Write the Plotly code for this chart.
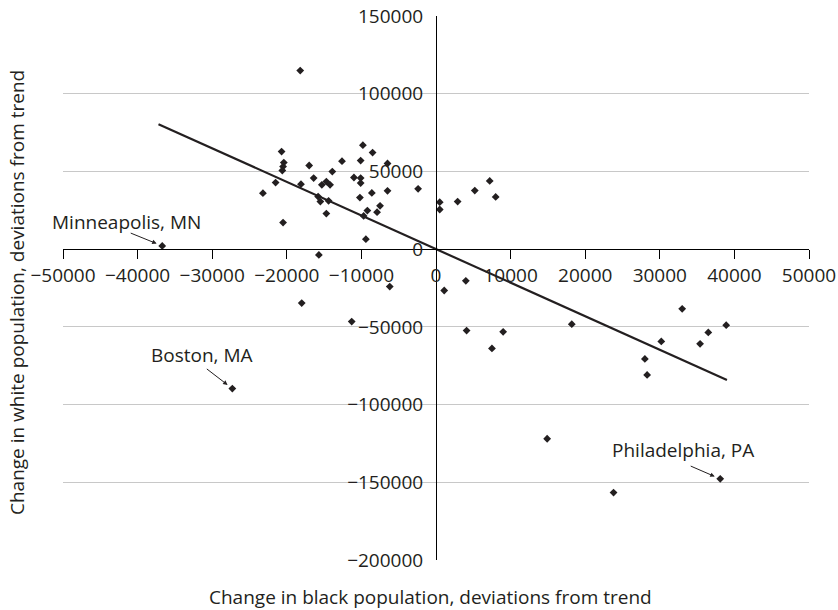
import plotly.graph_objects as go

# Metro areas: change in black vs. white population, deviations from trend
black_change = [
    -18200, -20700, -20400, -20500, -20600, -23200, -21500, -20500, -18100, -17000,
    -16400, -15300, -15800, -15500, -15700, -14700, -14200, -13900, -14400, -14700,
    -12600, -11000, -9800, -10100, -10100, -10100, -10200, -8500, -8600, -9200,
    -9700, -9400, -7900, -7500, -6500, -6500, -2400, -6200, 500, 500,
    2900, 5200, 7200, 8000, 1100, 4000, 4100, 7500, 9000, 14900,
    18200, 23800, 28000, 28300, 30200, 33000, 35400, 36500, 38900, -18000,
    -11300,
]
white_change = [
    114900, 62800, 55700, 53100, 50600, 36000, 42800, 17100, 41800, 53800,
    45700, 41400, 33800, 30600, -3700, 43500, 41400, 49900, 31100, 22900,
    56600, 46100, 66900, 57000, 45700, 42500, 33200, 62100, 36200, 24800,
    21400, 6400, 23800, 27900, 55100, 37500, 38800, -24100, 30200, 25500,
    30600, 37700, 43900, 33600, -26600, -20400, -52400, -63900, -53200, -122000,
    -48300, -156600, -70600, -80900, -59400, -38400, -60900, -53600, -48900, -34700,
    -46600,
]

# Named cities called out on the chart
city_names = ["Minneapolis, MN", "Boston, MA", "Philadelphia, PA"]
city_black = [-36700, -27300, 38100]
city_white = [2100, -89700, -147800]

# Fitted trend line end points
trend_black = [-37200, 39000]
trend_white = [80400, -84200]

x_ticks = [-50000, -40000, -30000, -20000, -10000, 0, 10000, 20000, 30000, 40000, 50000]
y_ticks = [-200000, -150000, -100000, -50000, 0, 50000, 100000, 150000]
x_range = [-50000, 50000]
y_range = [-200000, 150000]


def tick_text(vals):
    return [str(v).replace("-", "\u2212") for v in vals]


INK = "#231f20"
FONT = "Open Sans"
TEXT_SIZE = 19

fig = go.Figure()

fig.add_trace(go.Scatter(
    x=trend_black, y=trend_white, mode="lines",
    line=dict(color=INK, width=2.2), hoverinfo="skip", showlegend=False,
))
fig.add_trace(go.Scatter(
    x=black_change + city_black, y=white_change + city_white, mode="markers",
    marker=dict(symbol="diamond", size=6, color=INK, line=dict(width=0)),
    showlegend=False,
))

# City labels with small leader arrows
label_shift = [(-36, 24), (-30, 34), (-37, 29)]
arrow_tail = [(-32, -13), (-26, -20), (-30, -13)]
for name, cx, cy, (sx, sy), (ax, ay) in zip(city_names, city_black, city_white, label_shift, arrow_tail):
    fig.add_annotation(
        x=cx, y=cy, xref="x", yref="y", text=name, showarrow=False,
        xshift=sx, yshift=sy, font=dict(family=FONT, size=TEXT_SIZE, color=INK),
    )
    fig.add_annotation(
        x=cx, y=cy, xref="x", yref="y", text=" ", showarrow=True,
        font=dict(size=1), borderpad=0,
        ax=ax, ay=ay, arrowhead=2, arrowsize=0.9, arrowwidth=1,
        arrowcolor=INK, standoff=6,
    )

# Axis titles
fig.add_annotation(
    x=0.4926, y=-0.068, xref="paper", yref="paper", showarrow=False,
    text="Change in black population, deviations from trend",
    font=dict(family=FONT, size=TEXT_SIZE, color=INK), xanchor="center", yanchor="middle",
)
fig.add_annotation(
    x=-0.0623, y=0.4917, xref="paper", yref="paper", showarrow=False, textangle=-90,
    text="Change in white population, deviations from trend",
    font=dict(family=FONT, size=TEXT_SIZE, color=INK), xanchor="center", yanchor="middle",
)

# Axes cross at the origin
x_cross = (0 - y_range[0]) / (y_range[1] - y_range[0])
y_cross = (0 - x_range[0]) / (x_range[1] - x_range[0])

fig.update_layout(
    width=838, height=610,
    margin=dict(l=63, r=29, t=16, b=50, autoexpand=False),
    paper_bgcolor="white", plot_bgcolor="white",
    font=dict(family=FONT, size=TEXT_SIZE, color=INK),
    xaxis=dict(
        range=x_range, tickvals=x_ticks, ticktext=tick_text(x_ticks),
        anchor="free", position=x_cross, side="bottom", automargin=False,
        showline=True, linecolor="#000000", linewidth=1,
        ticks="outside", ticklen=9, tickwidth=1, tickcolor="#000000",
        showgrid=False, zeroline=False,
        tickfont=dict(family=FONT, size=TEXT_SIZE, color=INK),
    ),
    yaxis=dict(
        range=y_range, tickvals=y_ticks, ticktext=tick_text(y_ticks),
        anchor="free", position=y_cross, side="left", automargin=False,
        showline=True, linecolor="#000000", linewidth=1,
        ticks="outside", ticklen=9, tickcolor="rgba(0,0,0,0)",
        showgrid=True, gridcolor="#c8c8c8", gridwidth=1, zeroline=False,
        tickfont=dict(family=FONT, size=TEXT_SIZE, color=INK),
    ),
)

fig.write_html("out.html")
